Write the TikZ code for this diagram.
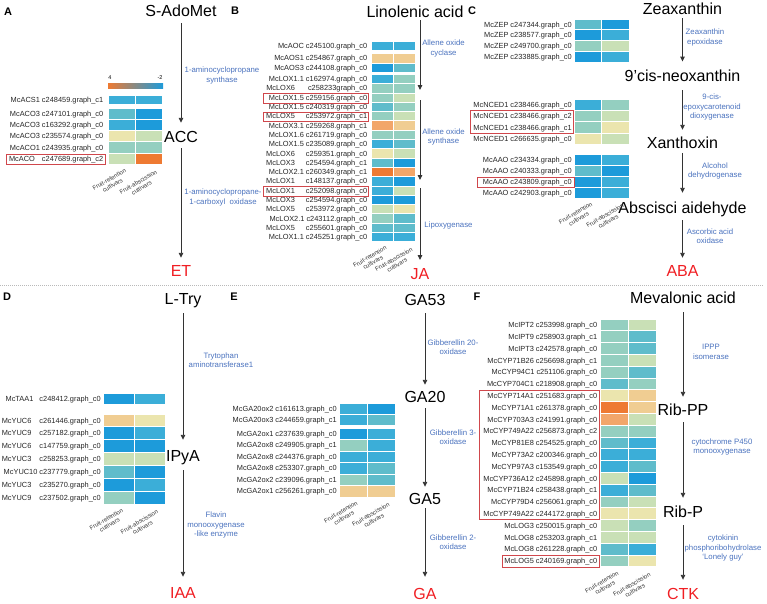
\documentclass[tikz,border=0pt]{standalone}
\usepackage{fontspec}
\setmainfont{Liberation Sans}
\usetikzlibrary{arrows.meta}
\definecolor{hmOr}{HTML}{EE7A32}
\definecolor{hmLo}{HTML}{F2A66A}
\definecolor{hmTan}{HTML}{F0CD92}
\definecolor{hmYel}{HTML}{EBE5AE}
\definecolor{hmPg}{HTML}{C9E0B6}
\definecolor{hmGt}{HTML}{94CFC0}
\definecolor{hmTeal}{HTML}{5FBCCB}
\definecolor{hmSky}{HTML}{3BAED8}
\definecolor{hmBlue}{HTML}{1D9BDA}
\definecolor{eblue}{HTML}{4A72BE}
\definecolor{hred}{HTML}{F01E23}
\definecolor{boxred}{HTML}{D0474C}
\tikzset{
  title/.style={font=\fontsize{16}{18}\selectfont, inner sep=0pt, text height=11.5pt, text depth=0pt},
  prod/.style={title, text=hred},
  enz/.style={font=\fontsize{7.8}{9.4}\selectfont, text=eblue, align=center, inner sep=0pt},
  hmlab/.style={font=\fontsize{7.4}{8}\selectfont, text=black!85, inner sep=0pt},
  collab/.style={font=\fontsize{6}{6.6}\selectfont, align=center, rotate=30, inner sep=0.3pt, text=black!80},
  plet/.style={font=\fontsize{11}{12}\selectfont\bfseries, inner sep=0pt},
  arr/.style={-{Triangle[length=5pt,width=4.5pt]}, line width=0.9pt, black!80},
  redbox/.style={draw=boxred, line width=0.8pt},
}
% #1 prefix, #2 x0, #3 col width, #4 y top, #5 pitch, #6 label right x, #7 list
\newcommand{\hmblock}[7]{%
  \foreach \lab/\ca/\cb [count=\i from 0] in {#7} {%
    \pgfmathsetmacro{\yt}{#4+\i*#5}%
    \fill[fill=\ca] (#2,\yt) rectangle ++(#3,#5);
    \fill[fill=\cb] ({#2+#3},\yt) rectangle ++(#3,#5);
    \draw[white, line width=0.9pt] (#2,\yt) rectangle ++(#3,#5) ({#2+#3},\yt) rectangle ++(#3,#5);
    \node[hmlab, anchor=base east] (#1-\i) at (#6,{\yt+#5/2+2.6}) {\lab};
  }%
}
% #1 prefix, #2 x0, #3 col width, #4 y bottom
\newcommand{\hmcols}[4]{%
  \node[collab, anchor=north east] (#1-cr) at ({#2+0.5*#3+3},{#4+3}) {Fruit-retention\\cultivars};
  \node[collab, anchor=north east] (#1-ca) at ({#2+1.5*#3+7},{#4+4.5}) {Fruit-abscission\\cultivars};
}
\begin{document}
\begin{tikzpicture}[x=1pt,y=-1pt]
\useasboundingbox (0,0) rectangle (767,603);

% panel letters
\node[plet] (LA) at (8,11.5) {A};
\node[plet] (LB) at (235,11) {B};
\node[plet] (LC) at (472,11) {C};
\node[plet] (LD) at (7,297) {D};
\node[plet] (LE) at (234,297) {E};
\node[plet] (LF) at (477,297) {F};

% separator
\draw[gray!55, line width=0.8pt, dash pattern=on 0.8pt off 1.2pt] (0,285) -- (763,285);

%% ---------------- A ----------------
\node[title] (sadomet) at (181,11) {S-AdoMet};
\node[title] (acc) at (181,137) {ACC};
\node[prod] (et) at (181,271) {ET};
\draw[arr] ([yshift=-6.25pt]sadomet.south) -- ([yshift=8.25pt]acc.north);
\draw[arr] ([yshift=-5.25pt]acc.south) -- ([yshift=7.25pt]et.north);
\node[enz] (ea1) at (222,75.5) {1-aminocyclopropane\\synthase};
\node[enz] (ea2) at (223,197.5) {1-aminocyclopropane-\\1-carboxyl\ \ oxidase};
\shade[left color=hmOr, middle color=hmYel, right color=hmBlue] (108,83) rectangle (163,88);
\node[font=\fontsize{5.5}{6}\selectfont, inner sep=0pt] (cbhi) at (110,78) {4};
\node[font=\fontsize{5.5}{6}\selectfont, inner sep=0pt] (cblo) at (160,78) {-2};
\hmblock{a1}{108}{27}{95}{9.5}{103.5}{{McACS1 c248459.graph\_c1}/hmSky/hmSky}
\hmblock{a2}{108}{27}{108}{11.3}{103.5}{%
{McACO3 c247101.graph\_c0}/hmTeal/hmBlue,
{McACO3 c163292.graph\_c0}/hmSky/hmBlue,
{McACO3 c235574.graph\_c0}/hmYel/hmPg,
{McACO1 c243935.graph\_c0}/hmGt/hmGt,
{McACO\hspace{5pt} c247689.graph\_c2}/hmPg/hmOr}
\hmcols{ac}{108}{27}{164.5}
\draw[redbox] (6,154) rectangle (105,164.5);

%% ---------------- B ----------------
\node[title] (lin) at (415,12) {Linolenic acid};
\coordinate (b1) at (420,95);
\coordinate (b2) at (420,184);
\coordinate (b0) at (lin.south -| b1);
\node[prod] (ja) at (420,274) {JA};
\draw[arr] ([yshift=-2.5pt]b0) -- ([yshift=5pt]b1);
\draw[arr] ([yshift=-5pt]b1) -- ([yshift=4pt]b2);
\draw[arr] ([yshift=-4pt]b2) -- ([yshift=8pt]ja.north);
\node[enz] (eb1) at (443.5,48.5) {Allene oxide\\cyclase};
\node[enz] (eb2) at (443.5,137) {Allene oxide\\synthase};
\node[enz] (eb3) at (448.5,225) {Lipoxygenase};
\hmblock{b1}{371}{22}{41.4}{9.3}{367.5}{{McAOC c245100.graph\_c0}/hmSky/hmSky}
\hmblock{b2}{371}{22}{53.7}{9.3}{367.5}{%
{McAOS1 c254867.graph\_c0}/hmTan/hmTan,
{McAOS3 c244108.graph\_c0}/hmBlue/hmTeal}
\hmblock{b3}{371}{22}{74.4}{9.3}{367.5}{%
{McLOX1.1 c162974.graph\_c0}/hmSky/hmGt,
{McLOX6\hspace{13pt}c258233graph\_c0}/hmGt/hmGt,
{McLOX1.5 c259156.graph\_c0}/hmGt/hmPg,
{McLOX1.5 c240319.graph\_c0}/hmTeal/hmGt,
{McLOX5\hspace{11pt}c253972.graph\_c1}/hmGt/hmPg,
{McLOX3.1 c259268.graph\_c1}/hmLo/hmTan,
{McLOX1.6 c261719.graph\_c0}/hmGt/hmGt,
{McLOX1.5 c235089.graph\_c0}/hmSky/hmTeal,
{McLOX6\hspace{11pt}c259351.graph\_c0}/hmYel/hmPg,
{McLOX3\hspace{11pt}c254594.graph\_c1}/hmTeal/hmBlue,
{McLOX2.1 c260349.graph\_c1}/hmOr/hmLo,
{McLOX1\hspace{11pt}c148137.graph\_c0}/hmSky/hmBlue,
{McLOX1\hspace{11pt}c252098.graph\_c0}/hmSky/hmPg,
{McLOX3\hspace{11pt}c254594.graph\_c0}/hmBlue/hmBlue,
{McLOX5\hspace{11pt}c253972.graph\_c0}/hmPg/hmYel,
{McLOX2.1 c243112.graph\_c0}/hmGt/hmTeal,
{McLOX5\hspace{11pt}c255601.graph\_c0}/hmTeal/hmTeal,
{McLOX1.1 c245251.graph\_c0}/hmSky/hmSky}
\hmcols{bc}{371}{22}{241.8}
\draw[redbox] (263,93.5) rectangle (368.5,103);
\draw[redbox] (263,112.3) rectangle (368.5,121.8);
\draw[redbox] (263,186.5) rectangle (368.5,196);

%% ---------------- C ----------------
\node[title] (zea) at (682.5,9) {Zeaxanthin};
\node[title] (neo) at (682.5,76) {9’cis-neoxanthin};
\node[title] (xan) at (682.5,142.5) {Xanthoxin};
\node[title] (abs) at (682.5,207.5) {Abscisci aidehyde};
\node[prod] (aba) at (682.5,271) {ABA};
\draw[arr] ([yshift=-3.5pt]zea.south) -- ([yshift=8.5pt]neo.north);
\draw[arr] ([yshift=-8.25pt]neo.south) -- ([yshift=6.75pt]xan.north);
\draw[arr] ([yshift=-4.5pt]xan.south) -- ([yshift=8.75pt]abs.north);
\draw[arr] ([yshift=-6.75pt]abs.south) -- ([yshift=7.25pt]aba.north);
\node[enz] (ec1) at (705,37.5) {Zeaxanthin\\epoxidase};
\node[enz] (ec2) at (712,107) {9-cis-\\epoxycarotenoid\\dioxygenase};
\node[enz] (ec3) at (715,171) {Alcohol\\dehydrogenase};
\node[enz] (ec4) at (710,236) {Ascorbic acid\\oxidase};
\hmblock{c1}{574}{27.5}{19}{10.8}{572}{%
{McZEP c247344.graph\_c0}/hmTeal/hmBlue,
{McZEP c238577.graph\_c0}/hmBlue/hmSky,
{McZEP c249700.graph\_c0}/hmGt/hmPg,
{McZEP c233885.graph\_c0}/hmBlue/hmSky}
\hmblock{c2}{574}{27.5}{99.5}{11.2}{572}{%
{McNCED1 c238466.graph\_c0}/hmSky/hmGt,
{McNCED1 c238466.graph\_c2}/hmGt/hmPg,
{McNCED1 c238466.graph\_c1}/hmGt/hmYel,
{McNCED1 c266635.graph\_c0}/hmYel/hmPg}
\hmblock{c3}{574}{27.5}{154}{11}{572}{%
{McAAO c234334.graph\_c0}/hmBlue/hmSky,
{McAAO c240333.graph\_c0}/hmTeal/hmBlue,
{McAAO c243809.graph\_c0}/hmBlue/hmSky,
{McAAO c242903.graph\_c0}/hmBlue/hmSky}
\hmcols{cc}{574}{27.5}{198}
\draw[redbox] (470,110.7) rectangle (573.5,133.1);
\draw[redbox] (477,177) rectangle (574,187.5);

%% ---------------- D ----------------
\node[title] (ltry) at (183,299) {L-Try};
\node[title] (ipya) at (183,456) {IPyA};
\node[prod] (iaa) at (183,593) {IAA};
\draw[arr] ([yshift=-8.25pt]ltry.south) -- ([yshift=10.25pt]ipya.north);
\draw[arr] ([yshift=-8.25pt]ipya.south) -- ([yshift=10.25pt]iaa.north);
\node[enz] (ed1) at (221,360) {Trytophan\\aminotransferase1};
\node[enz] (ed2) at (216,525) {Flavin\\monooxygenase\\-like enzyme};
\hmblock{d1}{103}{31}{393}{11.5}{101}{{McTAA1\hspace{4pt} c248412.graph\_c0}/hmBlue/hmSky}
\hmblock{d2}{103}{31}{414}{12.9}{101}{%
{McYUC6\hspace{6pt} c261446.graph\_c0}/hmTan/hmYel,
{McYUC9\hspace{6pt} c257182.graph\_c0}/hmBlue/hmSky,
{McYUC6\hspace{6pt} c147759.graph\_c0}/hmBlue/hmBlue,
{McYUC3\hspace{6pt} c258253.graph\_c0}/hmPg/hmPg,
{McYUC10 c237779.graph\_c0}/hmTeal/hmBlue,
{McYUC3\hspace{6pt} c235270.graph\_c0}/hmBlue/hmSky,
{McYUC9\hspace{6pt} c237502.graph\_c0}/hmGt/hmBlue}
\hmcols{dc}{103}{31}{504.3}

%% ---------------- E ----------------
\node[title] (ga53) at (425,300) {GA53};
\node[title] (ga20) at (425,397) {GA20};
\node[title] (ga5) at (425,499) {GA5};
\node[prod] (ga) at (425,594) {GA};
\draw[arr] ([yshift=-7.25pt]ga53.south) -- ([yshift=6.25pt]ga20.north);
\draw[arr] ([yshift=-5.25pt]ga20.south) -- ([yshift=6.25pt]ga5.north);
\draw[arr] ([yshift=-3.25pt]ga5.south) -- ([yshift=11.25pt]ga.north);
\node[enz] (ee1) at (453,347.5) {Gibberellin 20-\\oxidase};
\node[enz] (ee2) at (453,437) {Gibberellin 3-\\oxidase};
\node[enz] (ee3) at (453,542) {Gibberellin 2-\\oxidase};
\hmblock{e1}{339}{28}{403}{11}{337}{%
{McGA20ox2 c161613.graph\_c0}/hmSky/hmBlue,
{McGA20ox3 c244659.graph\_c1}/hmSky/hmTeal}
\hmblock{e2}{339}{28}{428}{11.5}{337}{%
{McGA2ox1 c237639.graph\_c0}/hmBlue/hmSky,
{McGA2ox8 c249905.graph\_c1}/hmGt/hmSky,
{McGA2ox8 c244376.graph\_c0}/hmSky/hmSky,
{McGA2ox8 c253307.graph\_c0}/hmSky/hmTeal,
{McGA2ox2 c239096.graph\_c1}/hmGt/hmTeal,
{McGA2ox1 c256261.graph\_c0}/hmTan/hmTan}
\hmcols{ec}{339}{28}{497}

%% ---------------- F ----------------
\node[title] (mev) at (683,298) {Mevalonic acid};
\node[title] (ribpp) at (683,410) {Rib-PP};
\node[title] (ribp) at (683,512) {Rib-P};
\node[prod] (ctk) at (683,594) {CTK};
\draw[arr] ([yshift=-8.25pt]mev.south) -- ([yshift=7.25pt]ribpp.north);
\draw[arr] ([yshift=-6.25pt]ribpp.south) -- ([yshift=8.25pt]ribp.north);
\draw[arr] ([yshift=-7.25pt]ribp.south) -- ([yshift=8.25pt]ctk.north);
\node[enz] (ef1) at (711,352) {IPPP\\isomerase};
\node[enz] (ef2) at (722,447) {cytochrome P450\\monooxygenase};
\node[enz] (ef3) at (723,548) {cytokinin\\phosphoribohydrolase\\‘Lonely guy’};
\hmblock{f1}{600}{28}{319.1}{11.8}{597.5}{%
{McIPT2 c253998.graph\_c0}/hmGt/hmPg,
{McIPT9 c258903.graph\_c1}/hmGt/hmTeal,
{McIPT3 c242578.graph\_c0}/hmGt/hmTeal,
{McCYP71B26 c256698.graph\_c1}/hmGt/hmPg,
{McCYP94C1 c251106.graph\_c0}/hmGt/hmTeal,
{McCYP704C1 c218908.graph\_c0}/hmTeal/hmGt,
{McCYP714A1 c251683.graph\_c0}/hmYel/hmTan,
{McCYP71A1 c261378.graph\_c0}/hmOr/hmTan,
{McCYP703A3 c241991.graph\_c0}/hmLo/hmPg,
{McCYP749A22 c256873.graph\_c2}/hmGt/hmGt,
{McCYP81E8 c254525.graph\_c0}/hmTeal/hmSky,
{McCYP73A2 c200346.graph\_c0}/hmSky/hmSky,
{McCYP97A3 c153549.graph\_c0}/hmSky/hmTeal,
{McCYP736A12 c245898.graph\_c0}/hmPg/hmBlue,
{McCYP71B24 c258438.graph\_c1}/hmSky/hmTeal,
{McCYP79D4 c256061.graph\_c0}/hmGt/hmPg,
{McCYP749A22 c244172.graph\_c0}/hmYel/hmYel,
{McLOG3 c250015.graph\_c0}/hmPg/hmGt,
{McLOG8 c253203.graph\_c1}/hmPg/hmPg,
{McLOG8 c261228.graph\_c0}/hmTeal/hmSky,
{McLOG5 c240169.graph\_c0}/hmGt/hmYel}
\hmcols{fc}{600}{28}{566.9}
\draw[redbox] (479,389.9) rectangle (599,519.7);
\draw[redbox] (502,555.1) rectangle (599,566.9);
\end{tikzpicture}
\end{document}
